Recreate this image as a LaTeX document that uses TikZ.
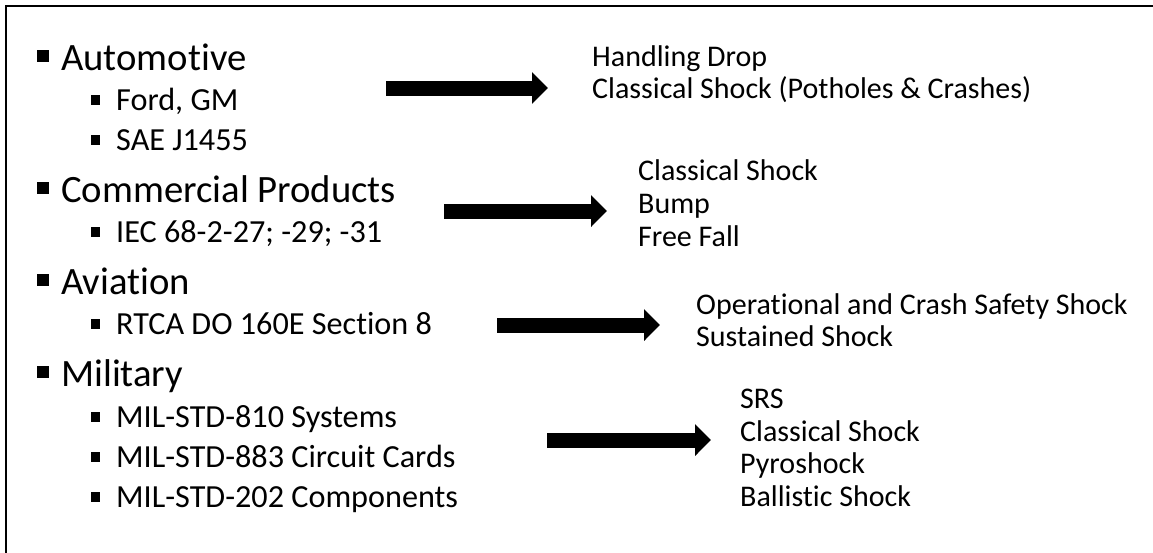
\documentclass[tikz,border=0pt]{standalone}
\usepackage{fontspec}
\setmainfont{Carlito}[RawFeature={-liga}]
\usetikzlibrary{arrows.meta}
% square list bullets, kept inside the item text
\newcommand\mainbullet{\rule[8.3pt]{11.6pt}{11.6pt}\hspace{12.7pt}}
\newcommand\subbullet{\rule[5.5pt]{9.5pt}{9.5pt}\hspace{15.8pt}}
\begin{document}
\begin{tikzpicture}[x=1pt,y=-1pt,
  mainitem/.style={anchor=base west, inner sep=0pt, font=\fontsize{38.7}{46}\selectfont},
  subitem/.style={anchor=base west, inner sep=0pt, font=\fontsize{32.2}{39}\selectfont},
  result/.style={anchor=base west, inner sep=0pt, font=\fontsize{30}{36}\selectfont},
  bigarrow/.style={line width=15pt, -{Triangle[width=31pt,length=16pt]}},
  frameline/.style={line width=2.6pt}]
\useasboundingbox (0,0) rectangle (1153,552);
% open frame: left and top sides
\draw[frameline] (6,570) -- (6,6) -- (1170,6);

% left column: categories and standards
\node[mainitem] (auto) at (36.7,70)  {\mainbullet Automotive};
\node[subitem]  (ford) at (90.7,110) {\subbullet Ford, GM};
\node[subitem]  (sae)  at (90.7,150) {\subbullet SAE J1455};
\node[mainitem] (comm) at (36.7,202) {\mainbullet Commercial Products};
\node[subitem]  (iec)  at (90.7,242) {\subbullet IEC 68-2-27; -29; -31};
\node[mainitem] (avia) at (36.7,294) {\mainbullet Aviation};
\node[subitem]  (rtca) at (90.7,334) {\subbullet RTCA DO 160E Section 8};
\node[mainitem] (mil)  at (36.7,386) {\mainbullet Military};
\node[subitem]  (m810) at (90.7,427) {\subbullet MIL-STD-810 Systems};
\node[subitem]  (m883) at (90.7,467) {\subbullet MIL-STD-883 Circuit Cards};
\node[subitem]  (m202) at (90.7,507) {\subbullet MIL-STD-202 Components};

% right column: shock test types
\node[result] (r1a) at (592,66.5) {Handling Drop};
\node[result] (r1b) at (592,98.5) {Classical Shock (Potholes \& Crashes)};
\node[result] (r2a) at (638,180) {Classical Shock};
\node[result] (r2b) at (638,213) {Bump};
\node[result] (r2c) at (638,246) {Free Fall};
\node[result] (r3a) at (696,314) {Operational and Crash Safety Shock};
\node[result] (r3b) at (696,346) {Sustained Shock};
\node[result] (r4a) at (740,408) {SRS};
\node[result] (r4b) at (740,441) {Classical Shock};
\node[result] (r4c) at (740,473.5) {Pyroshock};
\node[result] (r4d) at (740,506) {Ballistic Shock};

% block arrows
\coordinate (a1s) at (386,88);  \coordinate (a1e) at (548,88);
\coordinate (a2s) at (444,211); \coordinate (a2e) at (607,211);
\coordinate (a3s) at (497,325); \coordinate (a3e) at (660,325);
\coordinate (a4s) at (547,440); \coordinate (a4e) at (711,440);
\draw[bigarrow] (a1s) -- (a1e);
\draw[bigarrow] (a2s) -- (a2e);
\draw[bigarrow] (a3s) -- (a3e);
\draw[bigarrow] (a4s) -- (a4e);
\end{tikzpicture}
\end{document}
